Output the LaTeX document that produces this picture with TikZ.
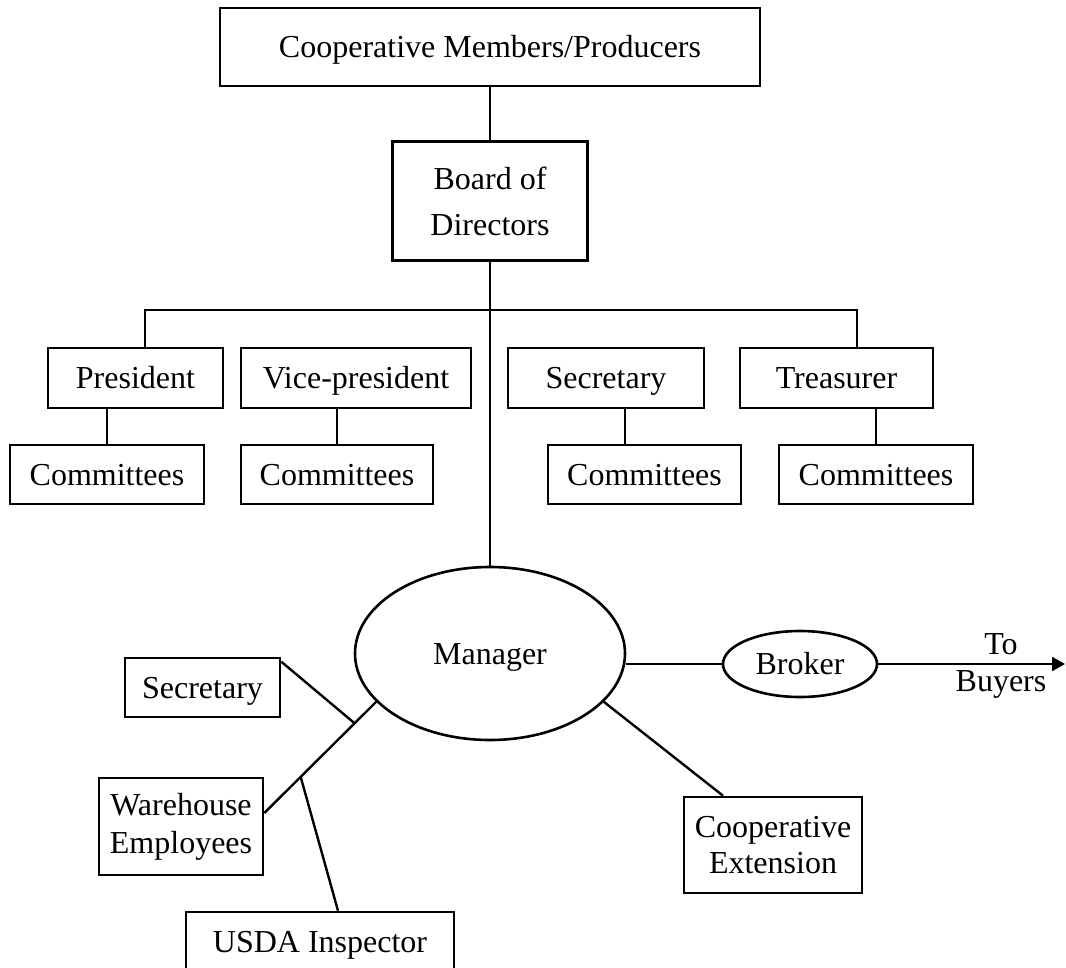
\documentclass[tikz,border=0pt]{standalone}
\usepackage{fontspec}
\setmainfont{Liberation Serif}
\usetikzlibrary{shapes.geometric,arrows.meta,calc}

\begin{document}
\begin{tikzpicture}[x=1pt,y=-1pt,
  every node/.style={font=\fontsize{32}{37}\selectfont, inner sep=0pt, align=center},
  unit/.style={draw, line width=2.6pt, rectangle, minimum height=60pt},
  one/.style={text height=25pt, text depth=4pt},
  oval/.style={draw, line width=2.6pt, ellipse},
  link/.style={line width=2.4pt}]
  \useasboundingbox (0,0) rectangle (1066,967);

  % governing bodies
  \node[unit, one, minimum width=540pt, minimum height=78pt] (members) at (490,47) {Cooperative Members/Producers};
  \node[unit, minimum width=195pt, minimum height=119pt,
        font=\fontsize{32}{46}\selectfont] (board) at (490,201) {Board of\\Directors};

  % officers
  \node[unit, one, minimum width=175pt] (pres) at (135.5,378) {President};
  \node[unit, one, minimum width=230pt] (vp)   at (356,378)   {Vice-president};
  \node[unit, one, minimum width=196pt] (sec)  at (606,378)   {Secretary};
  \node[unit, one, minimum width=193pt] (tre)  at (836.5,378) {Treasurer};

  % committees
  \node[unit, one, minimum width=194pt, minimum height=59pt] (c1) at (107,474.5)   {Committees};
  \node[unit, one, minimum width=192pt, minimum height=59pt] (c2) at (337,474.5)   {Committees};
  \node[unit, one, minimum width=193pt, minimum height=59pt] (c3) at (644.5,474.5) {Committees};
  \node[unit, one, minimum width=194pt, minimum height=59pt] (c4) at (876,474.5)   {Committees};

  % management
  \node[oval, one, minimum width=270pt, minimum height=173pt] (manager) at (490,653.5) {Manager};
  \node[oval, one, minimum width=154pt, minimum height=66pt] (broker) at (800,664) {Broker};
  \node (buyers) at (1001,666) {To\\Buyers};
  \coordinate (tip) at (1065,664);

  % staff
  \node[unit, one, minimum width=155pt, minimum height=59pt] (sec2) at (202.5,687.5) {Secretary};
  \node[unit, minimum width=164pt, minimum height=97pt,
        font=\fontsize{32}{38}\selectfont] (wh) at (181,826.5) {Warehouse\\Employees};
  \node[unit, one, minimum width=268pt, minimum height=59pt] (usda) at (320,941.5) {USDA Inspector};
  \node[unit, minimum width=178pt, minimum height=96pt,
        font=\fontsize{32}{36}\selectfont] (ext) at (773,845) {Cooperative\\Extension};

  % upper tree
  \draw[link] (members.south) -- (board.north);
  \draw[link] (board.south) -- (manager.north);
  \coordinate (bl) at (145,310);
  \coordinate (br) at (857,310);
  \draw[link] (bl |- pres.north) -- (bl) -- (br) -- (br |- tre.north);
  \draw[link] (vp.north -| 355,0) -- (vp.north -| 355,310);
  \draw[link] (sec.north -| 605,0) -- (sec.north -| 605,310);
  \draw[link] (pres.south -| c1.north) -- (c1.north);
  \draw[link] (vp.south -| c2.north) -- (c2.north);
  \draw[link] (sec.south -| 625,0) -- (c3.north -| 625,0);
  \draw[link] (tre.south -| c4.north) -- (c4.north);

  % manager links
  \draw[link] (broker.west) -- (broker.west -| manager.east);
  \draw[link, -{Triangle[length=13pt,width=14pt]}] (broker.east) -- (tip);
  \coordinate (mw) at (manager.203);
  \coordinate (we) at ([yshift=13.5pt]wh.east);
  \draw[link] (mw) -- (we);
  \coordinate (j1) at ($(mw)!0.193!(we)$);
  \coordinate (j2) at ($(mw)!0.675!(we)$);
  \draw[link] ([yshift=-5pt]sec2.north east) -- (j1);
  \draw[link] (j2) -- ([xshift=18pt]usda.north);
  \draw[link] (manager.337) -- ([xshift=-50pt]ext.north);
\end{tikzpicture}
\end{document}
